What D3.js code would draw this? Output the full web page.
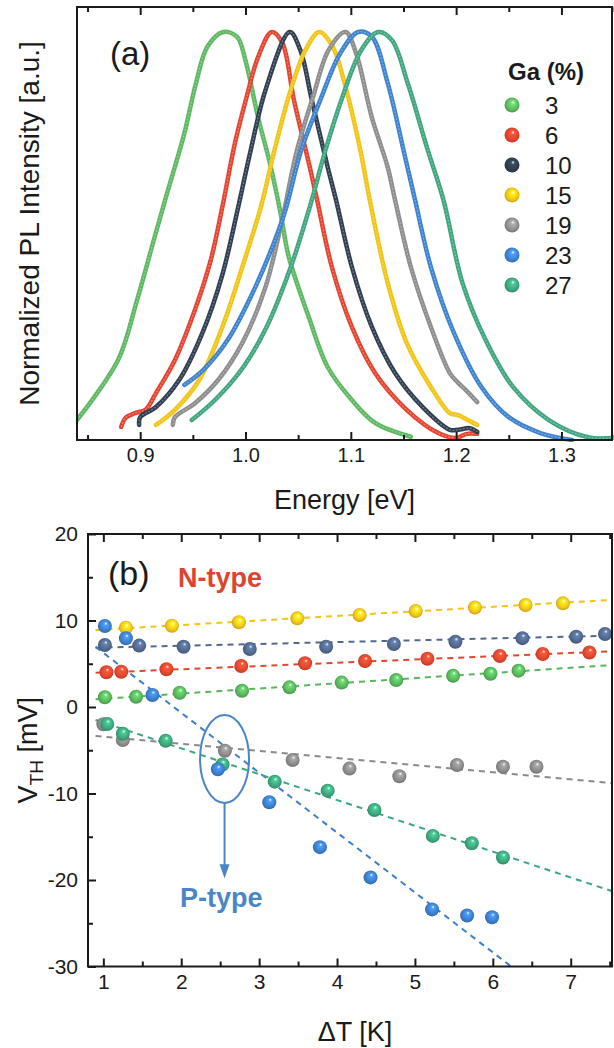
<!DOCTYPE html>
<html>
<head>
<meta charset="utf-8">
<script src="https://cdn.jsdelivr.net/npm/d3@7"></script>
<style>
  body { margin: 0; background: #fff; }
  text { font-family: Arial, "Liberation Sans", sans-serif; fill: #1a1a1a; }
</style>
</head>
<body>
<svg id="fig" width="614" height="1048"></svg>
<script>
// ---- panel (a): PL spectra, energy [eV] / normalized intensity ----
const gaLevels = ["3", "6", "10", "15", "19", "23", "27"];
const plColors = ["#5db862", "#e4432f", "#2f3e50", "#f2c414", "#8d8d8d", "#3d82cf", "#3fa57d"];

const pl3E = [0.840, 0.879, 0.897, 0.914, 0.925, 0.942, 0.953, 0.964, 0.979, 0.992, 1.000, 1.012, 1.023, 1.033, 1.041, 1.060, 1.078, 1.101, 1.123, 1.157];
const pl3I = [0.049, 0.196, 0.343, 0.500, 0.600, 0.752, 0.875, 0.965, 1.000, 0.988, 0.930, 0.790, 0.680, 0.560, 0.450, 0.302, 0.179, 0.098, 0.042, 0.008];
const pl6E = [0.882, 0.886, 0.895, 0.905, 0.915, 0.933, 0.952, 0.967, 0.978, 0.990, 1.001, 1.012, 1.025, 1.035, 1.046, 1.061, 1.068, 1.082, 1.101, 1.123, 1.153, 1.183, 1.200, 1.210, 1.220];
const pl6I = [0.032, 0.054, 0.066, 0.074, 0.115, 0.196, 0.319, 0.441, 0.571, 0.728, 0.840, 0.939, 1.000, 0.973, 0.833, 0.669, 0.588, 0.424, 0.277, 0.164, 0.074, 0.017, 0.005, 0.015, 0.015];
const pl10E = [0.899, 0.900, 0.915, 0.937, 0.959, 0.978, 0.993, 1.005, 1.019, 1.042, 1.052, 1.063, 1.078, 1.086, 1.101, 1.120, 1.142, 1.168, 1.194, 1.202, 1.213, 1.220];
const pl10I = [0.037, 0.056, 0.081, 0.147, 0.262, 0.405, 0.570, 0.711, 0.858, 1.000, 0.956, 0.833, 0.669, 0.588, 0.424, 0.277, 0.164, 0.081, 0.025, 0.025, 0.029, 0.020];
const pl15E = [0.915, 0.933, 0.956, 0.978, 0.997, 1.015, 1.027, 1.042, 1.057, 1.070, 1.083, 1.094, 1.109, 1.118, 1.135, 1.153, 1.176, 1.194, 1.202, 1.211, 1.220];
const pl15I = [0.037, 0.074, 0.147, 0.277, 0.424, 0.575, 0.705, 0.850, 0.956, 1.000, 0.963, 0.875, 0.711, 0.588, 0.385, 0.238, 0.130, 0.066, 0.061, 0.049, 0.037];
const pl19E = [0.931, 0.933, 0.952, 0.974, 0.997, 1.019, 1.034, 1.049, 1.064, 1.079, 1.095, 1.105, 1.120, 1.135, 1.142, 1.157, 1.176, 1.194, 1.202, 1.209, 1.220];
const pl19I = [0.037, 0.056, 0.090, 0.147, 0.238, 0.375, 0.530, 0.711, 0.840, 0.956, 1.000, 0.948, 0.790, 0.669, 0.588, 0.424, 0.277, 0.164, 0.140, 0.123, 0.093];
const pl23E = [0.942, 0.960, 0.983, 1.005, 1.027, 1.038, 1.053, 1.071, 1.090, 1.107, 1.120, 1.135, 1.150, 1.161, 1.176, 1.198, 1.224, 1.250, 1.280, 1.310];
const pl23I = [0.135, 0.172, 0.245, 0.351, 0.483, 0.564, 0.711, 0.833, 0.948, 1.000, 0.988, 0.875, 0.711, 0.588, 0.424, 0.262, 0.130, 0.056, 0.017, 0.000];
const pl27E = [0.949, 0.971, 0.998, 1.020, 1.043, 1.061, 1.076, 1.091, 1.110, 1.126, 1.139, 1.154, 1.173, 1.188, 1.206, 1.228, 1.254, 1.288, 1.325, 1.348];
const pl27I = [0.049, 0.098, 0.179, 0.277, 0.424, 0.571, 0.711, 0.833, 0.956, 1.000, 0.980, 0.875, 0.711, 0.588, 0.385, 0.245, 0.130, 0.049, 0.007, 0.005];

const energyTicks = [0.9, 1.0, 1.1, 1.2, 1.3];
const energyMinor = [0.85, 0.95, 1.05, 1.15, 1.25, 1.35];

// ---- panel (b): V_TH vs dT ----
const vthColors = ["#58b55c", "#e0472f", "#52698e", "#f0c419", "#8a8a8a", "#3c7ecb", "#3ca67c"];

const vth3T = [1.02, 1.42, 1.98, 2.78, 3.39, 4.06, 4.76, 5.49, 5.97, 6.33];
const vth3V = [1.12, 1.19, 1.65, 1.88, 2.27, 2.82, 3.12, 3.62, 3.85, 4.20];
const vth6T = [1.04, 1.23, 1.81, 2.77, 3.59, 4.36, 5.16, 6.09, 6.64, 7.24];
const vth6V = [4.01, 4.08, 4.36, 4.74, 5.05, 5.32, 5.58, 5.90, 6.13, 6.30];
const vth10T = [1.02, 1.46, 2.03, 2.88, 3.86, 4.73, 5.52, 6.38, 7.07, 7.44];
const vth10V = [7.17, 7.10, 6.97, 6.70, 6.97, 7.28, 7.55, 7.96, 8.13, 8.44];
const vth15T = [1.29, 1.88, 2.74, 3.49, 4.29, 5.01, 5.77, 6.42, 6.90];
const vth15V = [9.17, 9.40, 9.79, 10.25, 10.64, 11.10, 11.50, 11.80, 11.98];
const vth19T = [1.00, 1.25, 2.56, 3.43, 4.16, 4.80, 5.54, 6.13, 6.56];
const vth19V = [-2.0, -3.82, -5.05, -6.13, -7.12, -8.0, -6.7, -6.9, -6.9];
const vth23T = [1.02, 1.29, 1.63, 2.47, 3.13, 3.78, 4.43, 5.22, 5.67, 5.99];
const vth23V = [9.36, 7.94, 1.39, -7.2, -11.02, -16.2, -19.7, -23.4, -24.1, -24.3];
const vth27T = [1.05, 1.25, 1.80, 2.53, 3.20, 3.88, 4.48, 5.23, 5.73, 6.13];
const vth27V = [-1.97, -3.1, -3.9, -6.65, -8.63, -9.67, -11.9, -14.9, -15.76, -17.4];

// linear fits: [dT start, V start, dT end, V end]
const fit3 = [0.9, 0.89, 7.55, 4.86];
const fit6 = [0.9, 3.95, 7.55, 6.45];
const fit10 = [0.9, 6.85, 7.55, 8.25];
const fit15 = [0.9, 8.90, 7.55, 12.40];
const fit19 = [0.9, -3.35, 7.55, -8.82];
const fit23 = [0.9, 6.95, 6.25, -30.1];
const fit27 = [0.9, -1.5, 7.55, -21.35];

const dTTicks = [1, 2, 3, 4, 5, 6, 7];
const dTMinor = [1.5, 2.5, 3.5, 4.5, 5.5, 6.5, 7.5];
const vthTicks = [20, 10, 0, -10, -20, -30];
const vthMinor = [15, 5, -5, -15, -25];

// ---------------------------------------------------------------
const svg = d3.select("#fig");
const defs = svg.append("defs");
const FONT = 'Arial, "Liberation Sans", sans-serif';

// shaded sphere gradients
function ball(id, c) {
  const g = defs.append("radialGradient").attr("id", id)
    .attr("cx", "50%").attr("cy", "50%").attr("r", "55%")
    .attr("fx", "58%").attr("fy", "30%");
  g.append("stop").attr("offset", "0%").attr("stop-color", "#ffffff");
  g.append("stop").attr("offset", "22%").attr("stop-color", d3.color(c).brighter(0.6));
  g.append("stop").attr("offset", "70%").attr("stop-color", c);
  g.append("stop").attr("offset", "100%").attr("stop-color", d3.color(c).darker(0.7));
}
plColors.forEach((c, i) => ball("ga" + i, c));
vthColors.forEach((c, i) => ball("vt" + i, c));

function styleAxis(ag, fs) {
  ag.select(".domain").remove();
  ag.selectAll("line").attr("stroke", "#1a1a1a").attr("stroke-width", 2);
  ag.selectAll("text").attr("font-size", fs).attr("fill", "#1a1a1a").attr("font-family", FONT);
}

function frameAxes(g, x, w, h, xMaj, xMin, labels, fs) {
  const maj = d3.axisBottom(x).tickValues(xMaj).tickSize(-8).tickSizeOuter(0).tickPadding(8)
    .tickFormat(labels);
  const mn = d3.axisBottom(x).tickValues(xMin).tickSize(-5).tickSizeOuter(0).tickFormat("");
  const top = d3.axisTop(x).tickValues(xMaj).tickSize(-8).tickSizeOuter(0).tickFormat("");
  const topMn = d3.axisTop(x).tickValues(xMin).tickSize(-5).tickSizeOuter(0).tickFormat("");
  [[maj, h], [mn, h], [top, 0], [topMn, 0]].forEach(([a, ty]) => {
    styleAxis(g.append("g").attr("transform", `translate(0,${ty})`).call(a), fs);
  });
  g.append("rect").attr("width", w).attr("height", h)
    .attr("fill", "none").attr("stroke", "#1a1a1a").attr("stroke-width", 2);
}

// ================= panel (a) =================
const aM = { left: 77, top: 7, right: 612, bottom: 440 };
const aW = aM.right - aM.left, aH = aM.bottom - aM.top;
const ga = svg.append("g").attr("transform", `translate(${aM.left},${aM.top})`);
const xE = d3.scaleLinear().domain([0.84, 1.348]).range([0, aW]);
const yI = d3.scaleLinear().domain([0, 1]).range([aH, 25]);

defs.append("clipPath").attr("id", "clipA").append("rect").attr("width", aW).attr("height", aH + 2);

const plE = [pl3E, pl6E, pl10E, pl15E, pl19E, pl23E, pl27E];
const plI = [pl3I, pl6I, pl10I, pl15I, pl19I, pl23I, pl27I];
const plLine = d3.line().x(d => xE(d[0])).y(d => yI(d[1])).curve(d3.curveCatmullRom.alpha(0.5));

const curves = ga.append("g").attr("clip-path", "url(#clipA)");
gaLevels.forEach((lvl, i) => {
  const pts = d3.zip(plE[i], plI[i]);
  curves.append("path").datum(pts).attr("d", plLine)
    .attr("fill", "none").attr("stroke", plColors[i]).attr("stroke-width", 4.5)
    .attr("stroke-linecap", "round").attr("stroke-linejoin", "round");
  curves.append("path").datum(pts).attr("d", plLine)
    .attr("fill", "none").attr("stroke", "#ffffff").attr("stroke-opacity", 0.35)
    .attr("stroke-width", 1.2).attr("stroke-dasharray", "2,1.5");
});

frameAxes(ga, xE, aW, aH, energyTicks, energyMinor, d3.format(".1f"), 20);

ga.append("text").attr("x", 33).attr("y", 58).attr("font-size", 33).text("(a)");

// legend
const leg = svg.append("g");
leg.append("text").attr("x", 508).attr("y", 80).attr("font-size", 24)
  .attr("font-weight", "bold").text("Ga (%)");
gaLevels.forEach((lvl, i) => {
  const cy = 105 + i * 30;
  leg.append("circle").attr("cx", 512).attr("cy", cy).attr("r", 7.5)
    .attr("fill", `url(#ga${i})`);
  leg.append("text").attr("x", 545).attr("y", cy).attr("dy", "0.36em")
    .attr("font-size", 24).text(lvl);
});

svg.append("text").attr("transform", `translate(39,${(aM.top + aM.bottom) / 2}) rotate(-90)`)
  .attr("text-anchor", "middle").attr("font-size", 28).text("Normalized PL Intensity [a.u.]");
svg.append("text").attr("x", (aM.left + aM.right) / 2).attr("y", 509)
  .attr("text-anchor", "middle").attr("font-size", 27).text("Energy [eV]");

// ================= panel (b) =================
const bM = { left: 88, top: 534, right: 612, bottom: 966.5 };
const bW = bM.right - bM.left, bH = bM.bottom - bM.top;
const gb = svg.append("g").attr("transform", `translate(${bM.left},${bM.top})`);
const xT = d3.scaleLinear().domain([0.803, 7.53]).range([0, bW]);
const yV = d3.scaleLinear().domain([-30, 20]).range([bH, 0]);

defs.append("clipPath").attr("id", "clipB").append("rect").attr("width", bW).attr("height", bH);

const fits = [fit3, fit6, fit10, fit15, fit19, fit23, fit27];
const vthT = [vth3T, vth6T, vth10T, vth15T, vth19T, vth23T, vth27T];
const vthV = [vth3V, vth6V, vth10V, vth15V, vth19V, vth23V, vth27V];

const fitG = gb.append("g").attr("clip-path", "url(#clipB)");
fits.forEach((f, i) => {
  fitG.append("line")
    .attr("x1", xT(f[0])).attr("y1", yV(f[1]))
    .attr("x2", xT(f[2])).attr("y2", yV(f[3]))
    .attr("stroke", vthColors[i]).attr("stroke-width", 2)
    .attr("stroke-dasharray", "6,5");
});

const ptsG = gb.append("g");
[4, 6, 0, 1, 2, 3, 5].forEach(i => {
  ptsG.selectAll(null).data(d3.zip(vthT[i], vthV[i])).join("circle")
    .attr("cx", d => xT(d[0])).attr("cy", d => yV(d[1])).attr("r", 7)
    .attr("fill", `url(#vt${i})`);
});

// y axis with inward ticks (hyphen minus as in the figure)
const yMaj = d3.axisLeft(yV).tickValues(vthTicks).tickSize(-8).tickSizeOuter(0).tickPadding(10)
  .tickFormat(d => String(d));
const yMin = d3.axisLeft(yV).tickValues(vthMinor).tickSize(-5).tickSizeOuter(0).tickFormat("");
styleAxis(gb.append("g").call(yMaj), 21);
styleAxis(gb.append("g").call(yMin), 21);
frameAxes(gb, xT, bW, bH, dTTicks, dTMinor, d3.format("d"), 21);

gb.append("text").attr("x", 20).attr("y", 51).attr("font-size", 34).text("(b)");
gb.append("text").attr("x", 90).attr("y", 53).attr("font-size", 27)
  .attr("font-weight", "bold").style("fill", "#d9452f").text("N-type");

// P-type annotation
const pBlue = "#4a86c5";
const ex = xT(2.556), ey = yV(-6.0);
gb.append("ellipse").attr("cx", ex).attr("cy", ey).attr("rx", 24.5).attr("ry", 44)
  .attr("fill", "none").attr("stroke", pBlue).attr("stroke-width", 2);
const tipY = yV(-19.8);
gb.append("line").attr("x1", ex).attr("y1", ey + 44).attr("x2", ex).attr("y2", tipY - 10)
  .attr("stroke", pBlue).attr("stroke-width", 2);
gb.append("path")
  .attr("d", `M${ex - 5},${tipY - 14}L${ex + 5},${tipY - 14}L${ex},${tipY}Z`)
  .attr("fill", pBlue);
gb.append("text").attr("x", 92).attr("y", 373).attr("font-size", 27)
  .attr("font-weight", "bold").style("fill", pBlue).text("P-type");

const yl = svg.append("text")
  .attr("transform", `translate(37,${(bM.top + bM.bottom) / 2}) rotate(-90)`)
  .attr("text-anchor", "middle").attr("font-size", 27);
yl.append("tspan").text("V");
yl.append("tspan").attr("font-size", 19).attr("dy", 6).text("TH");
yl.append("tspan").attr("dy", -6).text(" [mV]");

svg.append("text").attr("x", (bM.left + bM.right) / 2 + 5).attr("y", 1041)
  .attr("text-anchor", "middle").attr("font-size", 27).text("\u0394T [K]");
</script>
</body>
</html>
